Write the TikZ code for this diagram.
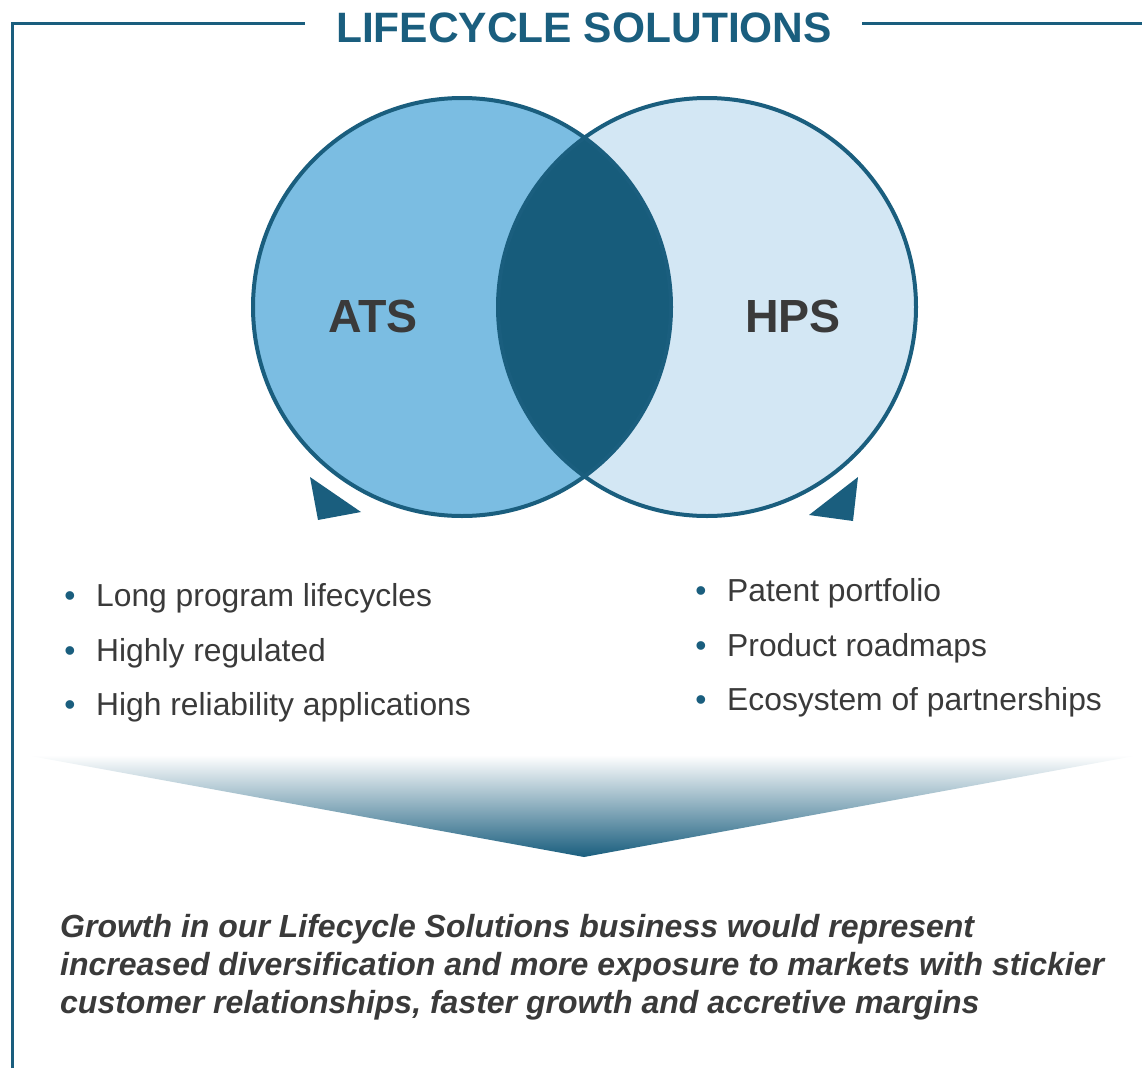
\documentclass[tikz,border=0pt]{standalone}
\usepackage{fontspec}
\setmainfont{Liberation Sans}
\definecolor{teal1}{HTML}{1A5E7E}
\definecolor{lblue}{HTML}{7BBDE2}
\definecolor{pblue}{HTML}{D3E7F4}
\definecolor{lenscol}{HTML}{175C7B}
\definecolor{txt}{HTML}{3A3A3A}
\begin{document}
\begin{tikzpicture}[x=1pt,y=-1pt,
  frameline/.style={draw=teal1, line width=3pt},
  ring/.style={draw=teal1, line width=4pt},
  bigtitle/.style={font=\fontsize{42.5}{50}\selectfont\bfseries, text=teal1, inner sep=0pt, anchor=base},
  label/.style={font=\fontsize{46.5}{54}\selectfont\bfseries, text=txt, inner sep=0pt, anchor=base},
  item/.style={font=\fontsize{31.8}{38}\selectfont, text=txt, inner sep=0pt, anchor=base west},
  dot/.style={font=\fontsize{31.8}{38}\selectfont, text=teal1, inner sep=0pt, anchor=base},
  closing/.style={font=\fontsize{32}{38}\selectfont\bfseries\itshape, text=txt, inner sep=0pt, anchor=base west},
  pointer/.style={fill=teal1}]
\useasboundingbox (0,0) rectangle (1142,1068);
% frame
\coordinate (fb) at (12,1068);
\coordinate (fc) at (12,23);
\coordinate (fl) at (305,23);
\coordinate (fr1) at (862,23);
\coordinate (fr2) at (1142,23);
\draw[frameline] (fb) -- (fc) -- (fl);
\draw[frameline] (fr1) -- (fr2);
\node[bigtitle] (title) at (584,42) {LIFECYCLE SOLUTIONS};
% circles
\fill[lblue] (462,307) circle[radius=209];
\fill[pblue] (707,307) circle[radius=209];
\begin{scope}
  \clip (462,307) circle[radius=209];
  \fill[lenscol] (707,307) circle[radius=209];
\end{scope}
\draw[ring] (462,307) circle[radius=209];
\draw[ring] (707,307) circle[radius=209];
\node[label] (ats) at (373,332) {ATS};
\node[label] (hps) at (793,332) {HPS};
% pointers
\fill[pointer] (310,477) -- (318,520) -- (361,512) -- cycle;
\fill[pointer] (858,477) -- (853,521) -- (809,515) -- cycle;
% left list
\node[dot] (b1) at (70,606) {•};
\node[item] (l1) at (96,606) {Long program lifecycles};
\node[dot] (b2) at (70,661) {•};
\node[item] (l2) at (96,661) {Highly regulated};
\node[dot] (b3) at (70,715) {•};
\node[item] (l3) at (96,715) {High reliability applications};
% right list
\node[dot] (b4) at (701,601) {•};
\node[item] (r1) at (727,601) {Patent portfolio};
\node[dot] (b5) at (701,656) {•};
\node[item] (r2) at (727,656) {Product roadmaps};
\node[dot] (b6) at (701,710) {•};
\node[item] (r3) at (727,710) {Ecosystem of partnerships};
% funnel
\shade[top color=white, bottom color=teal1] (25,755) -- (1140,755) -- (584,857) -- cycle;
% closing text
\node[closing] (c1) at (60,937) {Growth in our Lifecycle Solutions business would represent};
\node[closing] (c2) at (60,975) {increased diversification and more exposure to markets with stickier};
\node[closing] (c3) at (60,1013) {customer relationships, faster growth and accretive margins};
\end{tikzpicture}
\end{document}
